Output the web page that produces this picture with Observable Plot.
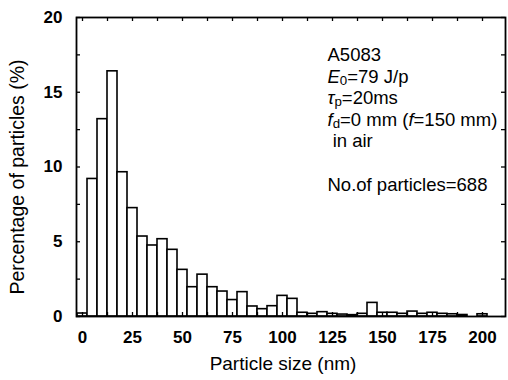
<!DOCTYPE html>
<html><head><meta charset="utf-8">
<script src="https://cdn.jsdelivr.net/npm/d3@7"></script>
<script src="https://cdn.jsdelivr.net/npm/@observablehq/plot@0.6"></script>
<style>body{margin:0;background:#fff;}</style>
</head><body><div id="chart"></div>
<script>
// ---- data ----
const binCenters = [0,5,10,15,20,25,30,35,40,45,50,55,60,65,70,75,80,85,90,95,100,105,110,115,120,125,130,135,140,145,150,155,160,165,170,175,180,185,190,195,200];
const percentages = [0.2,9.2,13.2,16.4,9.65,7.25,5.35,4.75,5.17,4.46,3.12,1.96,2.8,1.96,1.67,1.1,1.63,0.67,0.49,0.69,1.38,1.18,0.25,0.18,0.29,0.18,0.13,0.09,0.18,0.91,0.25,0.25,0.18,0.33,0.18,0.25,0.18,0.15,0.1,0,0.15];
const binWidth = 5;
const xTickLabels = [0,25,50,75,100,125,150,175,200];
const xMinorTicks = d3.range(0, 212, 12.5);
const yTickLabels = [0,5,10,15,20];
const yMinorTicks = d3.range(0, 20.01, 2.5);
const xTitle = "Particle size (nm)";
const yTitle = "Percentage of particles (%)";
const annotationLines = ["A5083","E0=79 J/p","τp=20ms","fd=0 mm (f=150 mm)","\u00a0in air","\u00a0","No.of particles=688"];

const bins = binCenters.map((c, i) => ({c, p: percentages[i]}));

const W = 508, H = 380, mL = 76, mR = 3, mT = 17, mB = 64;
const plotW = W - mL - mR, plotH = H - mT - mB;
const tickLen = 4;
const font = "'Liberation Sans', Arial, Helvetica, sans-serif";

const chart = Plot.plot({
  width: W, height: H,
  marginLeft: mL, marginRight: mR, marginTop: mT, marginBottom: mB,
  style: {fontFamily: font, color: "#000", background: "#fff"},
  x: {domain: [-3, 211.5]},
  y: {domain: [0, 20]},
  marks: [
    Plot.rectY(bins, {x1: d => d.c - binWidth/2, x2: d => d.c + binWidth/2, y1: 0, y2: "p", fill: "#fff", stroke: "#000", strokeWidth: 1.6}),
    // inward ticks
    Plot.tickX(xMinorTicks, {x: d => d, insetTop: plotH - tickLen, stroke: "#000", strokeWidth: 1.3}),
    Plot.tickX(xMinorTicks, {x: d => d, insetBottom: plotH - tickLen, stroke: "#000", strokeWidth: 1.3}),
    Plot.tickY(yMinorTicks, {y: d => d, insetRight: plotW - tickLen, stroke: "#000", strokeWidth: 1.3}),
    Plot.tickY(yMinorTicks, {y: d => d, insetLeft: plotW - tickLen, stroke: "#000", strokeWidth: 1.3}),
    Plot.axisX(xTickLabels, {anchor: "bottom", tickSize: 0, tickPadding: 14, fontSize: 17, fontWeight: "bold", label: null}),
    Plot.axisY(yTickLabels, {anchor: "left", tickSize: 0, tickPadding: 14, fontSize: 17, fontWeight: "bold", label: null}),
    Plot.text([xTitle], {frameAnchor: "bottom", textAnchor: "middle", dy: 53, dx: -8, fontSize: 19}),
    Plot.text([yTitle], {frameAnchor: "left", textAnchor: "middle", rotate: -90, dx: -59, dy: 10, fontSize: 19.5}),
    Plot.text([annotationLines.join("\n")], {frameAnchor: "top-left", textAnchor: "start", lineAnchor: "top", dx: 251, dy: 28, fontSize: 18.5, lineHeight: 1.17}),
    Plot.frame({stroke: "#000", strokeWidth: 1.8})
  ]
});

// rich text for annotation lines (italic symbols with small lowered subscripts)
const sub = s => `<tspan dy="2" font-size="72%">${s}</tspan><tspan dy="-2">`;
const rich = {
  "E0=79 J/p": `<tspan font-style="italic">E</tspan>${sub("0")}=79 J/p</tspan>`,
  "τp=20ms": `<tspan font-style="italic">τ</tspan>${sub("p")}=20ms</tspan>`,
  "fd=0 mm (f=150 mm)": `<tspan font-style="italic">f</tspan>${sub("d")}=0 mm (<tspan font-style="italic">f</tspan>=150 mm)</tspan>`
};
d3.select(chart).selectAll("tspan").each(function() {
  const t = this.textContent;
  if (rich[t]) this.innerHTML = rich[t];
});

document.getElementById("chart").appendChild(chart);
</script>
</body></html>
